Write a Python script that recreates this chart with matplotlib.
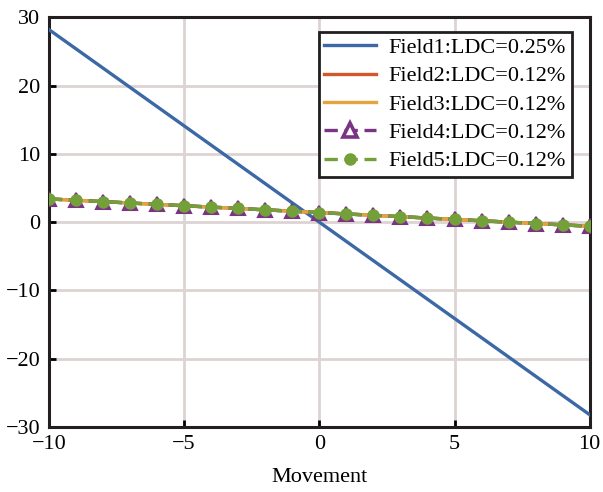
import numpy as np
import matplotlib
matplotlib.use('Agg')
import matplotlib.pyplot as plt

plt.rcParams['font.family'] = ['Liberation Serif', 'DejaVu Serif']
plt.rcParams['mathtext.fontset'] = 'stix'

# data
x_line = [-10, 0, 10]
field1 = [28.2, 0.0, -28.2]

x_pts = list(range(-10, 11))
field_small = [3.4, 3.2, 3.0, 2.8, 2.6, 2.4, 2.2, 2.0, 1.8, 1.6, 1.4,
               1.2, 1.0, 0.8, 0.6, 0.4, 0.2, 0.0, -0.2, -0.4, -0.6]
field2 = field_small
field3 = field_small
field4 = field_small
field5 = field_small

labels = ['Field1:LDC=0.25%', 'Field2:LDC=0.12%', 'Field3:LDC=0.12%',
          'Field4:LDC=0.12%', 'Field5:LDC=0.12%']

fig = plt.figure(figsize=(6.03, 4.92), dpi=100)
ax = fig.add_axes([0.081, 0.132, 0.897, 0.833])

c1 = '#3c69a6'
c2 = '#d4572b'
c3 = '#e3a43f'
c4 = '#7b3385'
c5 = '#74a03a'

ax.plot(x_line, field1, color=c1, lw=2.4, label=labels[0], zorder=3)
ax.plot(x_pts, field2, color=c2, lw=2.4, label=labels[1], zorder=3)
ax.plot(x_pts, field3, color=c3, lw=2.4, label=labels[2], zorder=3)
ax.plot(x_pts, field4, color=c4, lw=2.4, ls=(0, (4, 2)), marker='^',
        markersize=10, markerfacecolor=c4, markeredgecolor=c4,
        markeredgewidth=1.5, label=labels[3], zorder=4)
ax.plot(x_pts, field5, color=c5, lw=2.4, ls=(0, (4, 2)), marker='o',
        markersize=8, markerfacecolor=c5, markeredgecolor=c5,
        label=labels[4], zorder=5)

ax.set_xlim(-10, 10)
ax.set_ylim(-30, 30)
ax.set_xticks([-10, -5, 0, 5, 10])
ax.set_yticks([-30, -20, -10, 0, 10, 20, 30])
ax.set_xticklabels(['\u221210', '\u22125', '0', '5', '10'])
ax.set_yticklabels(['\u221230', '\u221220', '\u221210', '0', '10', '20', '30'])
ax.tick_params(direction='in', length=5, width=2, labelsize=16, pad=6)
ax.grid(True, color='#ddd3d3', lw=2)
ax.set_axisbelow(True)
for s in ax.spines.values():
    s.set_linewidth(2.2)
    s.set_color('#231f20')
ax.set_xlabel('Movement', fontsize=16, labelpad=10)

leg = ax.legend(loc='upper right', bbox_to_anchor=(0.975, 0.975), fontsize=16,
                frameon=True, fancybox=False, handlelength=2.3,
                borderpad=0.25, labelspacing=0.35, handletextpad=0.6,
                borderaxespad=0.2)
leg.get_frame().set_edgecolor('#231f20')
leg.get_frame().set_linewidth(2)
leg.get_frame().set_alpha(1)
# legend shows an open triangle
h4 = leg.legend_handles[3]
h4.set_markerfacecolor('white')
h4.set_markeredgewidth(2.6)

plt.savefig('out.png', dpi=100, facecolor='white')
